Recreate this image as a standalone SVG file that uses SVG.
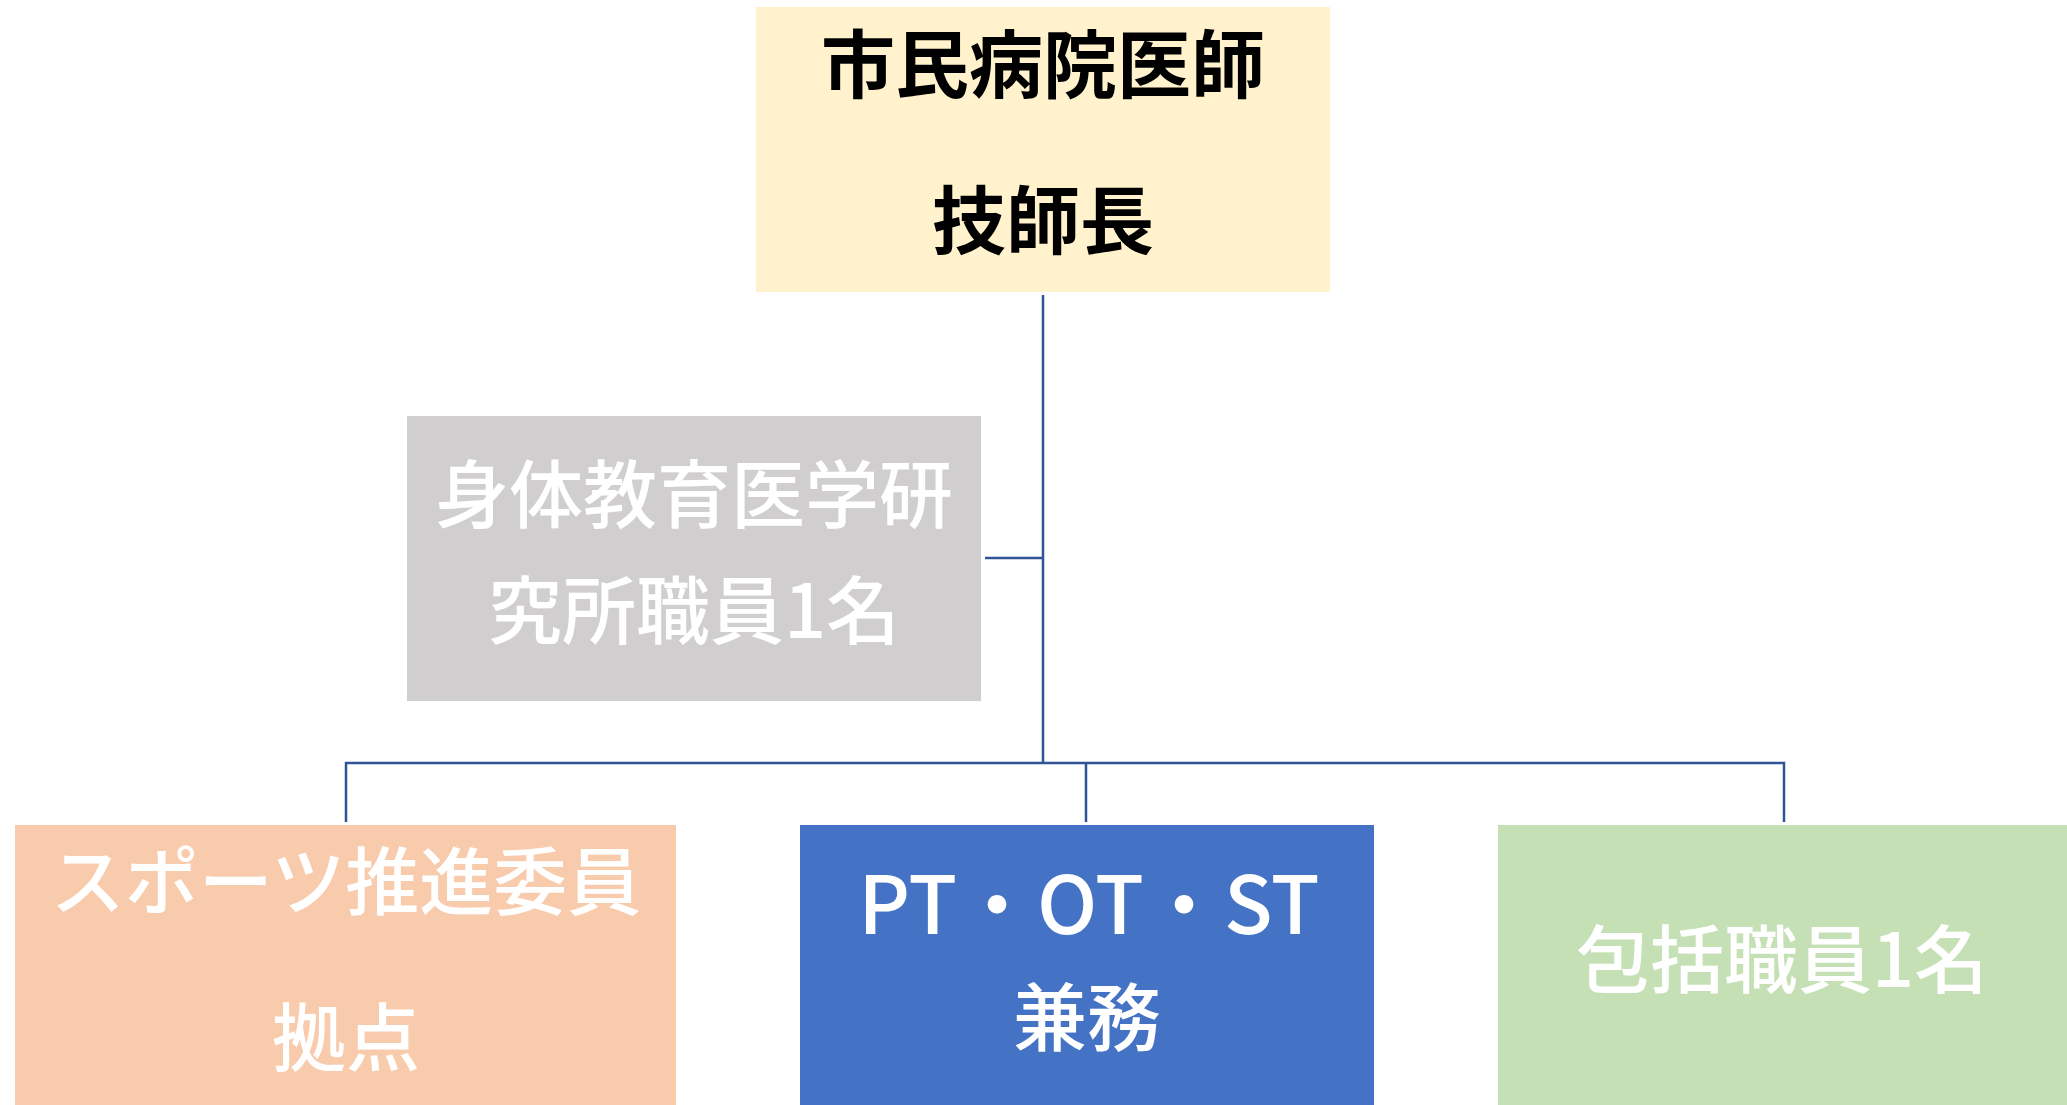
<svg xmlns="http://www.w3.org/2000/svg" width="2067" height="1105" viewBox="0 0 2067 1105">
<style>
  .t { font-family: "Noto Sans CJK JP", "Noto Sans", sans-serif; font-size: 74px; text-anchor: middle; dominant-baseline: central; }
  .w { fill: #FFFFFF; font-weight: 500; }
  .b { fill: #000000; font-weight: 700; }
  .conn { stroke: #2F5597; stroke-width: 2.5; fill: none; }
</style>
<rect width="2067" height="1105" fill="#FFFFFF"/>
<g id="connectors">
  <line class="conn" x1="1043" y1="295" x2="1043" y2="763"/>
  <line class="conn" x1="985" y1="558" x2="1043" y2="558"/>
  <polyline class="conn" points="346,822 346,763 1784,763 1784,822"/>
  <line class="conn" x1="1086" y1="763" x2="1086" y2="822"/>
</g>
<g id="node-top">
  <rect x="756" y="7" width="574" height="285" fill="#FFF2CC"/>
  <text class="t b" x="1043" y="59">市民病院医師</text>
  <text class="t b" x="1043" y="215">技師長</text>
</g>
<g id="node-research">
  <rect x="407" y="416" width="574" height="285" fill="#D0CECE"/>
  <text class="t w" x="694" y="489">身体教育医学研</text>
  <text class="t w" x="694" y="605">究所職員1名</text>
</g>
<g id="node-sports">
  <rect x="15" y="825" width="661" height="285" fill="#F8CBAD"/>
  <text class="t w" x="346" y="876">スポーツ推進委員</text>
  <text class="t w" x="346" y="1032">拠点</text>
</g>
<g id="node-ptotst">
  <rect x="800" y="825" width="574" height="285" fill="#4472C4"/>
  <text class="t w" x="1089" y="899" style="font-size:80px">PT・OT・ST</text>
  <text class="t w" x="1087" y="1012">兼務</text>
</g>
<g id="node-houkatsu">
  <rect x="1498" y="825" width="574" height="285" fill="#C5E0B4"/>
  <text class="t w" x="1782" y="954">包括職員1名</text>
</g>
</svg>
